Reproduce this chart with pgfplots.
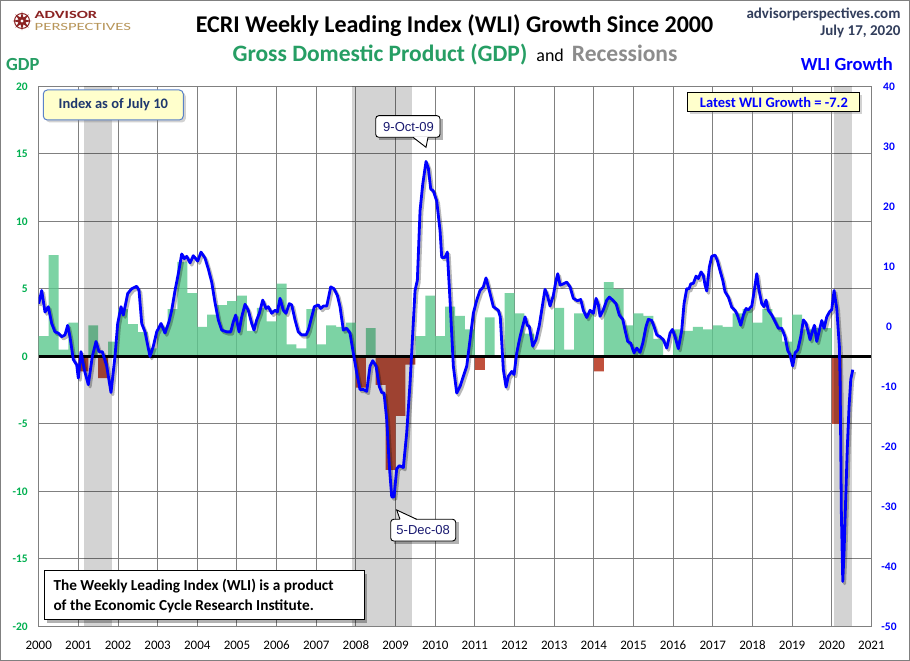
\documentclass[border=0pt]{standalone}
\usepackage{graphicx}
\usepackage{pgfplots}
\pgfplotsset{compat=1.18}
\usepackage{pgfplotstable}
\usepackage{fontspec}
\setmainfont{Carlito}
\newfontfamily\arialf{Liberation Sans}
\usetikzlibrary{shadows,shapes.geometric}
\definecolor{gdpgreen}{RGB}{38,158,100}
\definecolor{tickgreen}{RGB}{0,176,80}
\definecolor{bargreen}{RGB}{92,200,142}
\definecolor{barred}{RGB}{192,80,60}
\definecolor{recgray}{RGB}{140,140,140}
\definecolor{wliblue}{RGB}{0,0,255}
\definecolor{slate}{RGB}{50,62,92}
\definecolor{boxyellow}{RGB}{255,255,204}
\definecolor{navy}{RGB}{31,56,110}
\definecolor{calltext}{RGB}{25,25,112}
\definecolor{gridgray}{RGB}{128,128,128}
\definecolor{logored}{RGB}{139,35,35}
\definecolor{logogold}{RGB}{184,150,90}
\definecolor{boxblue}{RGB}{90,130,200}

\pgfplotstableread{
x v
2000.00 1.5
2000.25 7.5
2000.50 0.5
2000.75 2.5
2001.00 -1.1
2001.25 2.3
2001.50 -1.6
2001.75 1.1
2002.00 3.5
2002.25 2.4
2002.50 1.8
2002.75 0.6
2003.00 2.2
2003.25 3.5
2003.50 7.0
2003.75 4.7
2004.00 2.2
2004.25 3.1
2004.50 3.8
2004.75 4.1
2005.00 4.5
2005.25 1.9
2005.50 3.6
2005.75 2.6
2006.00 5.4
2006.25 0.9
2006.50 0.6
2006.75 3.5
2007.00 0.9
2007.25 2.3
2007.50 2.2
2007.75 2.5
2008.00 -2.3
2008.25 2.1
2008.50 -2.1
2008.75 -8.4
2009.00 -4.4
2009.25 -0.6
2009.50 1.5
2009.75 4.5
2010.00 1.5
2010.25 3.7
2010.50 3.0
2010.75 2.0
2011.00 -1.0
2011.25 2.9
2011.50 -0.1
2011.75 4.7
2012.00 3.2
2012.25 1.7
2012.50 0.5
2012.75 0.5
2013.00 3.6
2013.25 0.5
2013.50 3.2
2013.75 3.2
2014.00 -1.1
2014.25 5.5
2014.50 5.0
2014.75 2.3
2015.00 3.2
2015.25 3.0
2015.50 1.3
2015.75 0.1
2016.00 2.0
2016.25 1.9
2016.50 2.2
2016.75 2.0
2017.00 2.3
2017.25 2.2
2017.50 3.2
2017.75 3.5
2018.00 2.5
2018.25 3.5
2018.50 2.9
2018.75 1.1
2019.00 3.1
2019.25 2.0
2019.50 2.1
2019.75 2.1
2020.00 -5.0
2020.25 -5.0
}\gdp

\pgfplotstableread{
x w
2000.000 3.8
2000.076 6.0
2000.159 2.4
2000.242 3.3
2000.328 0.5
2000.411 -0.9
2000.494 -1.1
2000.580 -1.7
2000.663 -1.4
2000.731 0.2
2000.789 -1.7
2000.873 -5.5
2000.958 -6.4
2000.999 -8.6
2001.067 -4.2
2001.150 -7.2
2001.251 -9.7
2001.352 -5.0
2001.445 -2.5
2001.521 -4.2
2001.604 -4.2
2001.715 -6.6
2001.823 -11.0
2001.924 -5.0
2001.992 0.5
2002.076 3.3
2002.134 1.9
2002.245 5.5
2002.346 6.3
2002.472 6.7
2002.530 6.0
2002.598 0.5
2002.681 -0.9
2002.739 -2.8
2002.807 -5.0
2002.890 -3.3
2002.976 -0.9
2003.085 0.5
2003.185 -1.1
2003.286 0.8
2003.354 2.7
2003.438 6.0
2003.521 8.8
2003.607 12.1
2003.672 11.3
2003.733 11.7
2003.816 10.6
2003.899 11.8
2004.010 10.9
2004.093 12.4
2004.194 11.4
2004.277 9.6
2004.363 7.4
2004.446 4.0
2004.530 1.1
2004.615 -0.6
2004.742 -0.9
2004.842 -0.9
2004.908 0.8
2004.968 1.9
2005.052 -0.9
2005.120 1.6
2005.203 3.7
2005.286 2.7
2005.372 0.5
2005.430 -0.6
2005.498 1.1
2005.564 2.2
2005.650 4.4
2005.733 3.0
2005.791 3.3
2005.876 2.2
2005.960 2.7
2006.018 2.4
2006.086 4.7
2006.169 2.7
2006.237 2.2
2006.320 3.8
2006.381 3.6
2006.464 1.1
2006.547 -0.9
2006.633 -1.4
2006.742 -1.4
2006.800 -0.6
2006.885 1.6
2006.951 3.3
2007.052 3.6
2007.112 3.0
2007.178 3.4
2007.264 3.4
2007.365 6.6
2007.448 6.3
2007.531 5.2
2007.599 3.3
2007.682 -0.6
2007.768 -0.3
2007.851 -1.1
2007.934 -4.4
2008.020 -7.7
2008.103 -10.5
2008.187 -10.5
2008.272 -10.8
2008.356 -6.6
2008.424 -5.7
2008.507 -6.6
2008.590 -10.0
2008.651 -11.0
2008.709 -11.1
2008.777 -15.5
2008.842 -23.2
2008.903 -28.4
2008.961 -28.4
2009.029 -23.7
2009.095 -23.2
2009.196 -23.5
2009.281 -17.7
2009.365 -9.4
2009.433 -1.1
2009.491 6.0
2009.549 7.7
2009.617 19.3
2009.685 23.7
2009.768 27.5
2009.826 26.4
2009.887 22.9
2009.952 22.6
2010.038 20.9
2010.121 16.0
2010.164 11.5
2010.247 11.5
2010.305 12.4
2010.373 4.4
2010.457 -6.6
2010.542 -11.1
2010.626 -10.0
2010.709 -8.3
2010.795 -6.6
2010.878 -2.2
2010.961 2.2
2011.047 4.4
2011.130 6.0
2011.213 6.6
2011.281 8.1
2011.382 5.5
2011.465 3.3
2011.592 2.7
2011.640 1.6
2011.718 -7.2
2011.786 -10.1
2011.844 -8.3
2011.930 -7.5
2011.988 -8.0
2012.056 -4.4
2012.139 -1.7
2012.265 1.6
2012.323 0.2
2012.373 0.0
2012.459 -3.3
2012.542 -2.2
2012.625 0.2
2012.711 3.8
2012.769 6.2
2012.827 5.2
2012.896 3.4
2012.979 5.2
2013.047 7.7
2013.090 8.8
2013.148 6.9
2013.231 7.1
2013.317 7.4
2013.400 6.6
2013.483 4.7
2013.584 4.3
2013.670 4.5
2013.735 2.7
2013.821 1.5
2013.904 2.7
2013.987 2.2
2014.056 4.7
2014.114 3.6
2014.157 1.7
2014.240 2.8
2014.326 4.4
2014.391 4.9
2014.477 4.4
2014.560 3.8
2014.643 1.9
2014.729 1.2
2014.787 -0.6
2014.855 -2.5
2014.931 -2.8
2015.014 -4.4
2015.082 -3.6
2015.166 -4.3
2015.233 -2.8
2015.317 0.0
2015.375 1.2
2015.460 1.0
2015.519 0.0
2015.587 -1.4
2015.670 -1.7
2015.753 -2.2
2015.839 -3.6
2015.922 -1.1
2015.980 -0.5
2016.048 -1.7
2016.131 -3.7
2016.217 -0.6
2016.275 3.8
2016.343 6.3
2016.401 6.3
2016.444 7.1
2016.510 7.2
2016.578 8.4
2016.636 8.0
2016.704 9.1
2016.762 8.5
2016.805 6.9
2016.848 5.9
2016.913 9.9
2016.974 11.7
2017.057 11.9
2017.115 11.0
2017.183 9.3
2017.251 7.7
2017.309 5.8
2017.392 4.9
2017.478 3.2
2017.561 2.7
2017.619 1.9
2017.705 0.2
2017.771 1.9
2017.839 3.0
2017.897 2.8
2017.983 3.4
2018.041 5.8
2018.109 8.8
2018.167 6.0
2018.235 3.8
2018.293 3.3
2018.343 4.4
2018.401 2.7
2018.487 1.9
2018.570 0.8
2018.653 -0.3
2018.739 -0.3
2018.822 -1.7
2018.890 -4.0
2018.948 -4.7
2019.016 -6.6
2019.075 -4.4
2019.143 -3.9
2019.218 -1.7
2019.284 1.1
2019.352 0.5
2019.395 -0.6
2019.453 -2.2
2019.521 -0.6
2019.562 0.2
2019.622 -2.5
2019.688 -0.6
2019.748 1.0
2019.806 -0.3
2019.874 1.6
2019.940 2.4
2020.000 2.8
2020.058 6.0
2020.126 3.0
2020.192 -3.3
2020.210 -8.8
2020.227 -19.9
2020.242 -30.9
2020.278 -42.5
2020.311 -37.5
2020.354 -28.2
2020.394 -19.9
2020.437 -13.3
2020.480 -8.8
2020.530 -7.2
}\wli

\begin{document}
\begin{tikzpicture}[x=1pt,y=1pt]
\useasboundingbox (0,0) rectangle (910,661);
\fill[white] (0,0) rectangle (910,661);

% ---------- GDP axis (left) ----------
\begin{axis}[
  at={(38.7pt,34.5pt)}, anchor=south west, scale only axis,
  width=832.7pt, height=540pt,
  xmin=2000, xmax=2021, ymin=-20, ymax=20,
  xtick={2000,2001,...,2021}, ytick={-20,-15,...,20},
  /pgf/number format/1000 sep={},
  /pgf/number format/assume math mode=true,
  grid=major,
  major grid style={draw=gridgray, line width=1pt},
  axis line style={draw=gridgray, line width=1pt},
  major tick length=0pt,
  xticklabel style={font=\fontsize{13}{13}\selectfont, anchor=north, inner sep=0pt, yshift=-14pt},
  yticklabel style={font=\bfseries\fontsize{11.5}{12}\selectfont, text=tickgreen, anchor=east, inner sep=0pt, xshift=-10.7pt},
]
% GDP bars (quarterly, annualized)
\addplot[const plot, draw=none, fill=bargreen, fill opacity=0.8]
  table[x=x, y expr={max(\thisrow{v},0)}] {\gdp} \closedcycle;
\addplot[const plot, draw=none, fill=barred]
  table[x=x, y expr={min(\thisrow{v},0)}] {\gdp} \closedcycle;
% recessions
\addplot[draw=none, fill=black, fill opacity=0.172] coordinates {(2001.143,-20) (2001.143,20) (2001.841,20) (2001.841,-20)} -- cycle;
\addplot[draw=none, fill=black, fill opacity=0.172] coordinates {(2007.909,-20) (2007.909,20) (2009.415,20) (2009.415,-20)} -- cycle;
\addplot[draw=none, fill=black, fill opacity=0.172] coordinates {(2020.06,-20) (2020.06,20) (2020.50,20) (2020.50,-20)} -- cycle;
% zero line
\addplot[black, line width=2.4pt] coordinates {(2000,0) (2021,0)};
\end{axis}

% ---------- WLI axis (right) ----------
\begin{axis}[
  at={(38.7pt,34.5pt)}, anchor=south west, scale only axis,
  width=832.7pt, height=540pt,
  xmin=2000, xmax=2021, ymin=-50, ymax=40,
  axis y line*=right, axis x line=none,
  axis line style={draw=none},
  ytick={-50,-40,...,40},
  /pgf/number format/assume math mode=true,
  major tick length=0pt,
  yticklabel style={font=\bfseries\fontsize{11.5}{12}\selectfont, text=wliblue, anchor=center, inner sep=0pt, xshift=17.6pt},
]
\addplot[draw=black, opacity=0.28, line width=3pt, line join=round, xshift=1.8pt, yshift=-2.2pt] table[x=x,y=w] {\wli};
\addplot[draw=wliblue, line width=2.8pt, line join=round] table[x=x,y=w] {\wli};
\end{axis}

% ---------- frame ----------
\draw[gridgray, line width=1pt] (0.5,0.5) rectangle (909.5,660.5);

% ---------- titles ----------
\node[anchor=base, inner sep=0pt] at (454.5,628) {\bfseries\fontsize{24}{28}\selectfont ECRI Weekly Leading Index (WLI) Growth Since 2000};
\node[anchor=base, inner sep=0pt] at (455,599) {{\color{gdpgreen}\bfseries\fontsize{23.5}{27}\selectfont Gross Domestic Product (GDP)}\hspace{9pt}{\fontsize{18}{20}\selectfont and}\hspace{8pt}{\color{recgray}\bfseries\fontsize{23.5}{27}\selectfont Recessions}};
\node[anchor=base east, inner sep=0pt] at (900.7,642.7) {\color{slate}\bfseries\fontsize{15}{17}\selectfont advisorperspectives.com};
\node[anchor=base east, inner sep=0pt] at (900.7,625) {\color{slate}\bfseries\fontsize{15}{17}\selectfont July 17, 2020};
\node[anchor=base west, inner sep=0pt] at (6,590) {\color{gdpgreen}\bfseries\fontsize{18.5}{20}\selectfont GDP};
\node[anchor=base east, inner sep=0pt] at (893,590.3) {\color{wliblue}\bfseries\fontsize{18.5}{20}\selectfont WLI Growth};

% ---------- logo ----------
\draw[logored, line width=1pt] (22,640) circle (7.5);
\node[star, star points=8, star point ratio=2.6, fill=logored, minimum size=19pt, inner sep=0pt] at (22,640) {};
\fill[white] (22,640) circle (1.6);
\node[anchor=north west, inner sep=0pt, align=left, font=\fontsize{11}{11.6}\selectfont] at (34.5,650) {\scalebox{1.5}[1]{\color{logored}\bfseries ADVISOR}\\\scalebox{1.52}[1]{\color{logogold}PERSPECTIVES}};

% ---------- boxes ----------
\node[draw=boxblue, line width=1pt, fill=boxyellow, rounded corners=4pt, minimum width=140pt, minimum height=30pt, inner sep=0pt,
      drop shadow={shadow xshift=2.5pt, shadow yshift=-2.5pt, opacity=0.35}]
  at (113.3,556) {\color{navy}\bfseries\fontsize{14.5}{16}\selectfont Index as of July 10};
\node[draw=black, line width=1pt, fill=boxyellow, minimum width=172pt, minimum height=19pt, inner sep=0pt,
      drop shadow={shadow xshift=2.5pt, shadow yshift=-2.5pt, opacity=0.35}]
  at (773.9,558.8) {\color{wliblue}\bfseries\fontsize{14.5}{16}\selectfont Latest WLI Growth = -7.2};

% bottom-left note
\fill[black, opacity=0.3] (47.3,38) rectangle (367.3,87);
\draw[black, line width=1pt, fill=white] (44.3,41) rectangle (364.3,90);
\node[anchor=base west, inner sep=0pt] at (53.3,70.3) {\bfseries\fontsize{15.3}{17}\selectfont The Weekly Leading Index (WLI) is a product};
\node[anchor=base west, inner sep=0pt] at (53.3,50) {\bfseries\fontsize{15.3}{17}\selectfont of the Economic Cycle Research Institute.};

% 9-Oct-09 callout
\fill[black, opacity=0.3] (378.7,520.7) rectangle (443,542.3);
\draw[black, line width=0.9pt, fill=white, rounded corners=3pt] (375.7,523.7) rectangle (440,545.3);
\fill[white] (413,524.3) -- (426,513.7) -- (428,524.3) -- cycle;
\draw[black, line width=0.9pt] (413,523.7) -- (426,513.7) -- (428,523.7);
\node[anchor=base, inner sep=0pt] at (408.5,529.7) {\arialf\color{calltext}\fontsize{13}{14}\selectfont 9-Oct-09};

% 5-Dec-08 callout
\fill[black, opacity=0.3] (393.7,117) rectangle (458.7,138.7);
\draw[black, line width=0.9pt, fill=white, rounded corners=3pt] (390.7,120) rectangle (455.7,141.7);
\fill[white] (400,141) -- (396.7,151) -- (416.7,141) -- cycle;
\draw[black, line width=0.9pt] (400,141.7) -- (396.7,151) -- (416.7,141.7);
\node[anchor=base, inner sep=0pt] at (423.2,126) {\arialf\color{calltext}\fontsize{13}{14}\selectfont 5-Dec-08};
\end{tikzpicture}
\end{document}
